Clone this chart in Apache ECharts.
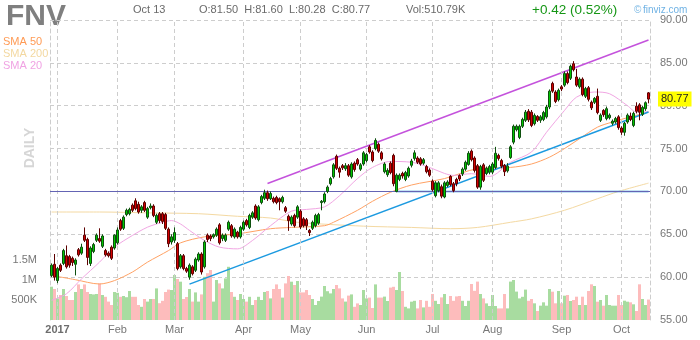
<!DOCTYPE html>
<html><head><meta charset="utf-8">
<script src="https://cdn.jsdelivr.net/npm/echarts@6/dist/echarts.min.js"></script>
<style>html,body{margin:0;padding:0;background:#fff}#c{width:700px;height:340px}</style>
</head><body><div id="c"></div>
<script>
// ---------------- DATA ----------------
const ticker = 'FNV';
const firstDays = ['2016-12-29', '2016-12-30'];
const holidays2017 = ['2017-01-02','2017-01-16','2017-02-20','2017-04-14','2017-05-29','2017-07-04','2017-09-04'];
const lastDay = '2017-10-13';
const monthLabels = ['2017','Feb','Mar','Apr','May','Jun','Jul','Aug','Sep','Oct'];

// [open, close, low, high]
const candles = [
[60.2,61.4,60.0,61.6],[61.5,60.0,59.6,62.7],[59.6,61.0,59.3,61.2],[61.4,60.8,60.6,61.6],[61.6,63.1,61.4,63.3],
[62.5,61.2,61.0,63.7],[62.4,61.4,61.1,62.6],[62.2,61.7,61.3,62.4],[61.5,62.0,60.2,62.2],[63.2,62.6,62.4,63.4],
[62.8,63.5,62.6,63.9],[64.9,64.3,64.1,65.8],[64.4,62.3,61.4,64.6],[61.6,63.4,61.3,63.6],[63.0,63.8,62.8,64.0],
[64.3,64.9,64.1,65.1],[64.5,64.2,64.0,65.7],[63.6,64.8,63.4,65.0],[63.1,62.6,62.4,63.3],[62.8,62.5,62.3,63.0],
[63.5,62.2,62.0,63.7],[63.4,64.9,63.2,65.0],[64.0,65.5,63.8,65.8],[66.6,65.6,65.4,66.8],[65.7,67.0,65.5,67.2],
[67.3,67.8,67.1,68.0],[67.4,67.9,67.2,68.1],[68.4,67.8,67.6,68.6],[68.9,68.0,67.8,69.2],[68.5,67.6,67.4,68.8],
[67.8,68.2,67.5,68.4],[68.7,67.8,67.6,68.9],[67.0,68.0,66.8,68.2],[68.1,68.3,67.9,68.6],[68.3,67.2,67.0,68.5],
[66.4,67.2,66.2,67.4],[67.4,66.6,66.3,67.6],[67.4,66.5,66.2,67.6],[67.3,65.7,65.5,67.5],[65.6,63.9,63.5,65.8],
[64.1,64.7,63.8,65.0],[64.3,65.2,64.0,65.8],[63.9,61.0,60.8,64.1],[61.2,62.5,61.0,62.7],[62.5,61.0,60.8,62.7],
[61.0,60.7,60.5,61.2],[60.0,61.4,59.7,61.6],[61.2,60.4,60.2,61.4],[60.8,62.1,60.6,62.3],[62.0,62.7,61.8,62.9],
[62.7,60.6,60.3,62.9],[61.2,64.1,61.0,64.3],[64.9,64.4,64.1,65.1],[64.8,64.5,64.2,65.0],[64.7,64.95,64.5,65.1],
[64.9,65.6,64.7,65.8],[66.1,64.0,63.8,66.3],[64.5,64.9,64.2,65.1],[64.3,64.9,64.1,65.1],[65.6,66.4,65.4,66.6],
[66.0,64.8,64.6,66.2],[64.7,65.6,64.5,65.8],[65.25,64.7,64.5,65.4],[64.7,65.8,64.5,66.0],[65.6,66.4,65.4,66.6],
[66.6,66.1,65.9,66.8],[65.8,67.2,65.6,67.4],[67.0,67.5,66.8,67.7],[68.3,66.9,66.7,68.5],[66.7,68.2,66.5,68.4],
[68.7,69.4,68.5,69.6],[69.2,69.85,69.0,70.2],[69.85,69.15,68.9,70.1],[69.15,69.75,69.0,70.0],[69.2,68.8,68.6,69.4],
[69.3,68.7,68.5,69.5],[69.15,68.8,67.8,69.3],[68.8,69.3,68.6,69.5],[68.1,67.7,67.5,68.3],[67.1,66.6,65.4,67.3],
[66.2,67.0,66.0,67.2],[67.2,66.0,65.8,67.4],[67.0,68.2,66.8,68.4],[67.7,65.85,65.6,67.9],[66.8,66.0,65.8,67.0],
[66.7,66.0,65.5,66.9],[65.45,65.2,64.8,65.6],[65.7,66.4,65.5,66.6],[66.0,67.2,65.8,67.4],[66.3,67.3,66.1,67.5],
[68.7,68.85,67.8,69.0],[68.8,69.7,68.6,69.9],[70.0,70.5,69.8,70.7],[70.9,71.5,70.7,71.7],[71.7,73.1,71.5,73.3],
[74.1,72.7,72.5,74.3],[72.7,72.25,71.6,72.9],[73.0,72.75,72.5,73.2],[72.65,73.0,72.4,73.3],[73.0,71.9,71.7,73.2],
[71.7,73.2,71.5,73.4],[73.3,72.55,72.3,73.5],[73.7,73.2,73.0,73.9],[72.6,73.1,72.4,73.3],[73.2,74.5,73.0,74.7],
[73.6,74.3,73.4,74.5],[75.2,74.6,74.4,75.4],[74.6,73.6,73.4,74.8],[75.0,75.95,74.8,76.2],[75.5,74.7,74.5,75.7],
[74.5,73.8,73.6,74.7],[72.3,73.2,72.1,73.4],[71.95,72.45,71.7,72.7],[73.3,72.2,72.0,73.5],[74.2,70.9,70.6,74.4],
[70.0,71.9,69.9,72.1],[71.4,71.9,71.2,72.1],[72.1,71.8,71.5,72.3],[71.4,72.2,71.2,72.4],[71.8,72.7,71.6,72.9],
[73.05,73.55,72.8,73.8],[73.85,74.5,73.6,74.8],[73.9,73.4,73.2,74.1],[73.8,73.2,73.0,74.0],[73.3,73.7,73.1,73.9],
[72.9,72.3,72.1,73.1],[72.5,71.9,71.7,72.7],[71.2,70.2,70.0,71.4],[69.5,71.0,69.3,71.2],[70.1,71.0,69.9,71.2],
[70.55,69.45,69.2,70.8],[69.35,71.0,69.2,71.2],[70.7,71.1,70.5,71.3],[71.75,70.8,70.6,71.9],[70.9,70.1,69.9,71.1],
[71.4,70.9,70.6,71.6],[71.85,71.45,71.2,72.0],[72.05,72.6,71.8,72.8],[72.6,73.4,72.4,73.6],[73.15,74.45,73.0,74.7],
[74.7,73.7,73.5,74.9],[73.9,72.45,72.2,74.1],[73.0,70.5,70.3,73.2],[70.5,72.9,70.2,73.1],[73.1,71.3,71.1,73.3],
[72.1,72.7,71.9,72.9],[72.25,72.9,72.0,73.1],[72.25,73.2,72.0,73.4],[72.8,74.45,72.6,75.2],[74.2,73.85,73.6,74.4],
[73.6,72.95,72.7,73.8],[73.05,72.3,71.8,73.2],[72.4,72.95,72.2,73.3],[73.95,75.2,73.8,75.4],[75.75,77.6,75.5,77.8],
[77.2,77.6,77.0,77.8],[76.3,77.6,76.1,77.8],[77.6,78.4,77.4,78.6],[78.3,79.25,78.1,79.5],[79.35,78.35,78.1,79.6],
[79.25,77.7,77.5,79.5],[77.9,78.87,77.7,79.1],[78.75,78.3,78.1,78.9],[78.3,78.7,78.0,78.9],[78.4,79.2,78.2,79.4],
[78.7,79.85,78.5,80.1],[79.85,81.7,79.6,81.9],[82.6,81.7,81.5,82.8],[81.6,80.5,80.3,81.8],[80.7,81.8,80.5,82.0],
[82.2,81.95,81.7,82.4],[82.4,83.75,82.2,84.0],[83.75,82.7,82.5,84.0],[83.2,84.6,83.0,84.8],[84.9,84.2,84.0,85.2],
[83.35,82.4,82.2,84.3],[82.2,83.1,82.0,83.3],[83.1,81.3,81.1,83.3],[81.1,82.0,80.9,82.2],[82.1,80.75,80.5,82.3],
[80.4,79.75,79.5,80.6],[80.4,80.85,80.2,81.0],[81.1,79.2,79.0,82.0],[78.3,78.9,78.1,79.1],[79.45,78.95,78.7,79.6],
[78.5,79.65,78.3,79.9],[78.6,78.9,78.4,79.1],[77.95,78.2,77.7,78.4],[78.1,78.5,77.9,78.7],[78.7,77.45,77.2,78.9],
[77.4,76.9,76.6,77.6],[76.9,77.95,76.5,78.1],[78.1,78.9,77.9,79.1],[78.8,78.4,78.2,79.2],[77.7,79.1,77.5,79.3],
[79.95,79.35,79.1,80.4],[80.1,79.25,78.3,80.3],[79.0,79.8,78.8,80.0],[79.65,80.35,79.4,80.5],[81.50,80.77,80.28,81.60]
];

// volume in thousands
const volumesK = [
833,775,540,625,775,600,500,500,700,890,
775,890,700,650,640,650,915,625,580,460,
375,700,680,580,600,570,725,580,580,375,
330,525,460,525,525,790,420,480,700,760,
750,1125,1025,958,525,575,775,460,690,460,
640,1080,1170,1250,460,1000,915,790,1040,1330,
700,580,500,650,525,460,580,375,500,580,
500,700,725,540,775,890,775,560,915,1100,
958,875,975,690,690,750,625,525,375,475,
585,850,720,665,775,875,790,540,460,610,
640,330,415,375,750,540,560,300,890,560,
560,585,475,810,830,750,1200,725,330,290,
458,480,290,500,315,480,330,650,480,400,
565,650,400,600,480,590,600,480,350,480,
900,730,960,650,540,415,350,625,350,290,
290,650,290,960,1000,710,540,580,760,480,
525,417,225,358,442,358,775,708,417,725,
417,608,625,475,500,583,375,583,375,725,
892,850,458,500,358,625,375,358,358,625,
375,483,458,442,392,225,892,525,375,511
];

// moving averages: [bar index, value]
const sma20 = [[0,57.3],[5,58.06],[10,59.8],[16,61.75],[21,63.5],[27,64.87],[32,65.83],[37,66.4],[40,66.6],[43,66.2],[46,65.45],[51,64.28],[56,63.5],[62,63.3],[67,64.28],[73,66.0],[80,67.7],[85,67.9],[91,68.2],[96,69.5],[102,71.5],[107,72.8],[113,73.5],[120,73.4],[126,72.8],[131,72.1],[134,71.87],[140,72.07],[146,71.75],[153,73.4],[160,74.6],[165,76.9],[171,79.45],[175,81.0],[181,81.6],[186,81.4],[192,80.0],[195,79.25],[199,79.3]];
const sma50 = [[0,60.2],[8,59.7],[16,59.2],[21,59.6],[27,60.6],[32,61.75],[39,63.1],[43,64.0],[51,64.7],[62,65.05],[73,65.65],[80,65.8],[91,66.0],[94,66.4],[102,67.8],[107,68.85],[113,69.9],[120,70.75],[131,71.5],[142,72.65],[153,72.8],[160,73.2],[166,74.0],[171,75.0],[176,76.15],[182,77.5],[187,78.1],[193,78.7],[199,79.25]];
const sma200 = [[0,67.6],[16,67.6],[32,67.5],[49,67.4],[62,67.1],[73,66.9],[82,66.4],[104,65.95],[120,65.8],[133,65.65],[142,65.8],[153,66.4],[160,66.8],[171,67.8],[182,69.15],[189,70.0],[199,70.97]];

// drawn trend lines: [bar index, price]
const upperTrend = [[72,70.93],[199,87.67]];
const lowerTrend = [[46,59.19],[199,79.26]];
const supportLine = [[115,70],[199,70]];
const levelLine = 70;

const priceMin = 55, priceMax = 90, priceStep = 5;
const volumeTickLabels = {500000:'500K', 1000000:'1M', 1500000:'1.5M'};
const quote = {date:'Oct 13', o:'81.50', h:'81.60', l:'80.28', c:'80.77', vol:'510.79K', chg:'+0.42 (0.52%)'};

// ---------------- BUILD ----------------
function buildDates(){
  const out = firstDays.slice();
  let t = Date.UTC(2017,0,1);
  const end = Date.parse(lastDay+'T00:00:00Z');
  while (t <= end){
    const d = new Date(t); const w = d.getUTCDay(); const s = d.toISOString().slice(0,10);
    if (w!==0 && w!==6 && holidays2017.indexOf(s)<0) out.push(s);
    t += 86400000;
  }
  return out;
}
const dates = buildDates();
const monthStarts = [];
for (let i=1;i<dates.length;i++){ if (dates[i].slice(0,7)!==dates[i-1].slice(0,7)) monthStarts.push(i); }
const labelAt = {}; monthStarts.forEach((i,j)=>labelAt[i]=monthLabels[j]);

const FONT = '"Liberation Sans", Arial, Helvetica, sans-serif';
const GRID_C = '#cdcdcd';
const upFill='#00c800', upLine='#0d4f0d', dnFill='#d40000', dnLine='#5c0000';

const chart = echarts.init(document.getElementById('c'), null, {renderer:'canvas'});
chart.setOption({
  animation:false,
  backgroundColor:'#ffffff',
  textStyle:{fontFamily:FONT},
  grid:{left:50, right:50, top:20, bottom:20, outerBoundsMode:'none', containLabel:false},
  xAxis:{
    type:'category', data:dates, boundaryGap:true,
    axisLine:{show:false}, axisTick:{show:false}, splitLine:{show:false},
    axisLabel:{
      interval:(i)=>labelAt[i]!==undefined, margin:4,
      color:'#777', fontSize:11, fontFamily:FONT,
      formatter:(v,i)=>{ const t=labelAt[i]; if(!t) return ''; return i===monthStarts[0]?'{b|'+t+'}':t; },
      rich:{b:{fontWeight:'bold', color:'#6d6d6d', fontSize:11, fontFamily:FONT}}
    }
  },
  yAxis:[
    {type:'value', position:'right', min:priceMin, max:priceMax, interval:priceStep, scale:true,
     axisLine:{show:true, lineStyle:{color:GRID_C, type:[4,3]}}, axisTick:{show:false},
     splitLine:{show:true, showMinLine:false, lineStyle:{color:GRID_C, type:[4,3]}},
     axisLabel:{margin:10, color:'#777', fontSize:11, fontFamily:FONT, formatter:v=>v.toFixed(2)}},
    {type:'value', position:'left', min:0, max:7500000, interval:500000,
     axisLine:{show:true, lineStyle:{color:GRID_C, type:[4,3]}}, axisTick:{show:false}, splitLine:{show:false},
     axisLabel:{margin:13, color:'#777', fontSize:11, fontFamily:FONT, formatter:v=>volumeTickLabels[v]||''}}
  ],
  series:[
    {name:'grid', type:'line', data:dates.map(()=>null), z:1, silent:true, symbol:'none',
     markLine:{silent:true, symbol:['none','none'], label:{show:false}, animation:false,
       lineStyle:{color:GRID_C, type:[4,3], width:1},
       data:[2].concat(monthStarts.slice(1)).map(i=>({xAxis:dates[i]}))}},
    {name:'Volume', type:'bar', yAxisIndex:1, z:2, barCategoryGap:'0%', barWidth:3,
     data:volumesK.map((v,i)=>({value:v*1000, itemStyle:{color: candles[i][1]>=candles[i][0] ? '#a8dca0' : '#fdbcbc'}}))},
    {name:'SMA 200', type:'line', data:sma200, symbol:'none', z:3, lineStyle:{color:'#f4d9a2', width:1}, smooth:0.3},
    {name:'SMA 50', type:'line', data:sma50, symbol:'none', z:3, lineStyle:{color:'#ffa264', width:1}, smooth:0.3},
    {name:'SMA 20', type:'line', data:sma20, symbol:'none', z:3, lineStyle:{color:'#f1a6e3', width:1}, smooth:0.3},
    {name:'Level', type:'line', data:dates.map(()=>null), symbol:'none', z:4,
     markLine:{silent:true, symbol:['none','none'], label:{show:false}, lineStyle:{color:'#6464b4', width:1.2, type:'solid'}, data:[{yAxis:levelLine}]}},
    {name:'Support', type:'line', data:supportLine, symbol:'none', z:4, lineStyle:{color:'#1c8fd6', width:1.5}},
    {name:'Lower trend', type:'line', data:lowerTrend, symbol:'none', z:4, lineStyle:{color:'#1c9ae0', width:1.5}},
    {name:'Upper trend', type:'line', data:upperTrend, symbol:'none', z:4, lineStyle:{color:'#c452dc', width:1.5}},
    {name:ticker, type:'candlestick', data:candles, z:5, barWidth:2,
     itemStyle:{color:upFill, color0:dnFill, borderColor:upLine, borderColor0:dnLine, borderWidth:1}},
    {name:'Last', type:'line', data:dates.map(()=>null), symbol:'none', z:6,
     markLine:{silent:true, symbol:['none','none'], lineStyle:{color:'rgba(0,0,0,0)', width:0},
       label:{show:true, position:'end', distance:8, formatter:quote.c, backgroundColor:'#ffff00', color:'#222',
              fontSize:11, fontFamily:FONT, padding:[2,3,2,3]},
       data:[{yAxis:candles[candles.length-1][1]}]}}
  ],
  graphic:[
    {type:'text', x:6, y:17, style:{text:ticker, fill:'#7f7f7f', font:'bold 30px '+FONT, verticalAlign:'middle'}},
    {type:'text', x:3, y:42, style:{text:'SMA 50', fill:'#ff9b55', font:'11px '+FONT, verticalAlign:'middle'}},
    {type:'text', x:3, y:54, style:{text:'SMA 200', fill:'#f3d8a0', font:'11px '+FONT, verticalAlign:'middle'}},
    {type:'text', x:3, y:66, style:{text:'SMA 20', fill:'#f0a3e3', font:'11px '+FONT, verticalAlign:'middle'}},
    {type:'text', x:30, y:148, rotation:Math.PI/2, style:{text:'DAILY', fill:'#d6d6d6', font:'bold 14px '+FONT, align:'center', verticalAlign:'middle'}},
    {type:'text', x:133, y:10, style:{text:quote.date, fill:'#6a6a6a', font:'11px '+FONT, verticalAlign:'middle'}},
    {type:'text', x:199, y:10, style:{text:'O:'+quote.o+'  H:'+quote.h+'  L:'+quote.l+'  C:'+quote.c, fill:'#6a6a6a', font:'11px '+FONT, verticalAlign:'middle'}},
    {type:'text', x:406, y:10, style:{text:'Vol:'+quote.vol, fill:'#6a6a6a', font:'11px '+FONT, verticalAlign:'middle'}},
    {type:'text', x:532, y:10, style:{text:quote.chg, fill:'#159615', font:'13.5px '+FONT, verticalAlign:'middle'}},
    {type:'text', x:634, y:10, style:{text:'\u00a9', fill:'#7ab8e4', font:'10px '+FONT, verticalAlign:'middle'}},
    {type:'text', x:643, y:10, style:{text:'finviz.com', fill:'#6fb2e4', font:'10px '+FONT, verticalAlign:'middle'}}
  ]
});
</script></body></html>
